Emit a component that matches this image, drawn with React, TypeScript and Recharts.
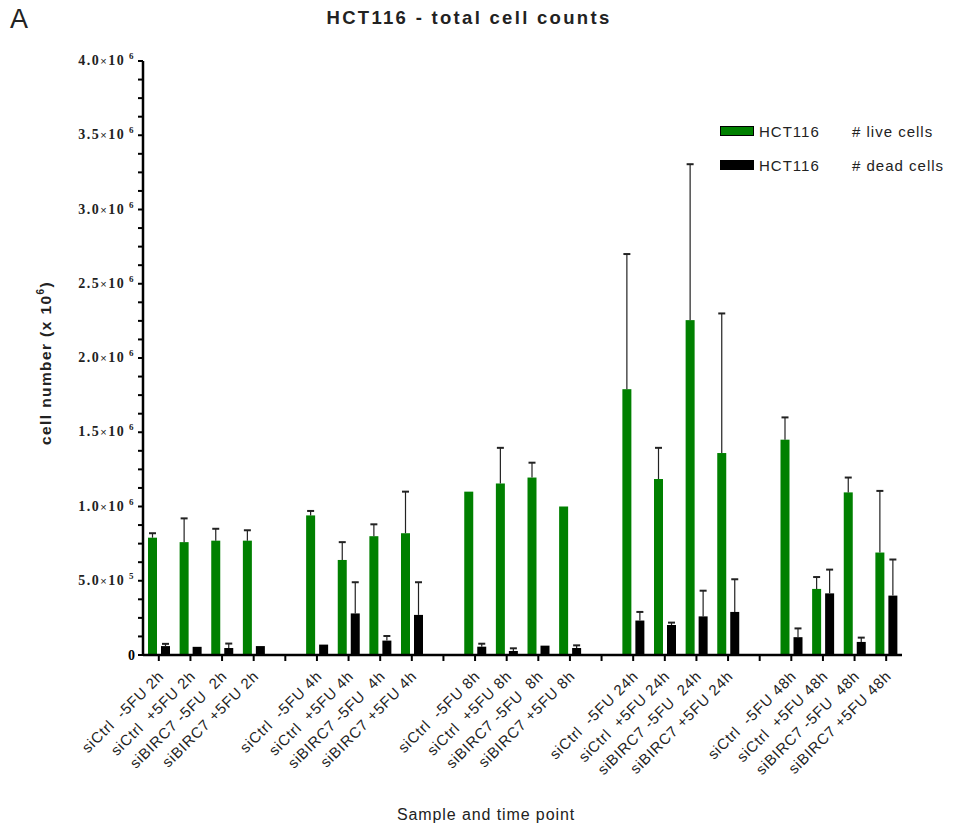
import React from "react";
import { BarChart, Bar, XAxis, YAxis } from "recharts";

// sample / time point labels, "" marks the spacer slot between time points
const categories = [
  "siCtrl  -5FU 2h", "siCtrl  +5FU 2h", "siBIRC7 -5FU  2h", "siBIRC7 +5FU 2h", "",
  "siCtrl  -5FU 4h", "siCtrl  +5FU 4h", "siBIRC7 -5FU  4h", "siBIRC7 +5FU 4h", "",
  "siCtrl  -5FU 8h", "siCtrl  +5FU 8h", "siBIRC7 -5FU  8h", "siBIRC7 +5FU 8h", "",
  "siCtrl  -5FU 24h", "siCtrl  +5FU 24h", "siBIRC7 -5FU  24h", "siBIRC7 +5FU 24h", "",
  "siCtrl  -5FU 48h", "siCtrl  +5FU 48h", "siBIRC7 -5FU  48h", "siBIRC7 +5FU 48h",
];

// cell numbers in millions
const liveCells = [
  0.79, 0.76, 0.77, 0.77, null,
  0.94, 0.64, 0.8, 0.82, null,
  1.1, 1.155, 1.195, 1.0, null,
  1.79, 1.185, 2.255, 1.36, null,
  1.45, 0.445, 1.095, 0.69,
];
const liveErr = [
  0.03, 0.16, 0.08, 0.07, null,
  0.03, 0.12, 0.08, 0.28, null,
  0.005, 0.24, 0.1, 0.005, null,
  0.91, 0.21, 1.05, 0.94, null,
  0.15, 0.08, 0.1, 0.415,
];
const deadCells = [
  0.06, 0.055, 0.047, 0.06, null,
  0.07, 0.28, 0.097, 0.27, null,
  0.056, 0.027, 0.063, 0.047, null,
  0.232, 0.202, 0.26, 0.29, null,
  0.12, 0.415, 0.088, 0.4,
];
const deadErr = [
  0.015, 0.003, 0.03, 0.006, null,
  0.003, 0.21, 0.031, 0.22, null,
  0.02, 0.018, 0.003, 0.018, null,
  0.058, 0.016, 0.173, 0.22, null,
  0.059, 0.16, 0.029, 0.243,
];

const yTicks = Array.from({ length: 33 }, (_, i) => i * 0.125);

const legendItems = [
  { color: "#008000", name: "# live cells" },
  { color: "#000000", name: "# dead cells" },
];

const data = categories.map((label, i) => ({
  key: `c${i}`,
  label,
  live: liveCells[i],
  liveErr: liveErr[i],
  dead: deadCells[i],
  deadErr: deadErr[i],
}));

const SANS = "'Liberation Sans', Arial, sans-serif";
const SERIF = "'Liberation Serif', 'Times New Roman', serif";

const ErrorShape = (props: any, valKey: string, errKey: string) => {
  const { x, y, width, height, fill, payload } = props;
  if (!payload || payload[valKey] == null || !height || height <= 0) return <g />;
  const errPx = (height * payload[errKey]) / payload[valKey];
  const cx = x + width / 2;
  const top = y - errPx;
  return (
    <g>
      <rect x={x} y={y} width={width} height={height} fill={fill} />
      {errPx > 1 && (
        <>
          <line x1={cx} x2={cx} y1={y} y2={top} stroke="#222" strokeWidth={1.2} />
          <line x1={cx - 3.5} x2={cx + 3.5} y1={top} y2={top} stroke="#222" strokeWidth={2} />
        </>
      )}
    </g>
  );
};

const YTick = (props: any) => {
  const { x, y, payload, index } = props;
  if (index % 4 !== 0) return <g />;
  const v = payload.value;
  if (v === 0) {
    return (
      <text x={x} y={y} dy={5} textAnchor="end" fontFamily={SERIF} fontWeight="bold" fontSize={14} fill="#000">
        0
      </text>
    );
  }
  const small = v < 1;
  const mant = small ? (v * 10).toFixed(1) : v.toFixed(1);
  const exp = small ? "5" : "6";
  return (
    <text x={x} y={y} dy={4} textAnchor="end" fontFamily={SERIF} fontWeight="bold" fontSize={14} fill="#222" letterSpacing={1.5}>
      {mant}
      <tspan fontWeight="normal" fontSize={11} fontFamily={SANS}>×</tspan>
      <tspan>10</tspan>
      <tspan dy={-6} fontSize={9}> {exp}</tspan>
    </text>
  );
};

const XTick = (props: any) => {
  const { x, y, index } = props;
  const label = categories[index];
  if (!label) return <g />;
  const ax = x + 6;
  const ay = y + 14;
  return (
    <text
      x={ax}
      y={ay}
      textAnchor="end"
      transform={`rotate(-45, ${ax}, ${ay})`}
      fontFamily={SANS}
      fontSize={15}
      letterSpacing={0.8}
      fill="#222"
      style={{ whiteSpace: "pre" }}
    >
      {label}
    </text>
  );
};

export default function App() {
  return (
    <div style={{ position: "absolute", left: 0, top: 0, width: 954, height: 829, background: "#fff" }}>
      <div style={{ position: "absolute", left: 10, top: 4, fontFamily: SANS, fontSize: 27, color: "#222" }}>A</div>
      <div
        style={{
          position: "absolute",
          left: 0,
          width: 938,
          top: 7,
          textAlign: "center",
          fontFamily: SANS,
          fontWeight: "bold",
          fontSize: 18.5,
          letterSpacing: 2.3,
          color: "#222",
        }}
      >
        HCT116 - total cell counts
      </div>
      <div
        style={{
          position: "absolute",
          left: 45,
          top: 363,
          transform: "translate(-50%, -50%) rotate(-90deg)",
          whiteSpace: "nowrap",
          fontFamily: SANS,
          fontWeight: "bold",
          fontSize: 15.5,
          letterSpacing: 1.4,
          color: "#222",
        }}
      >
        cell number (x 10<sup style={{ fontSize: 10 }}>6</sup>)
      </div>
      <div
        style={{
          position: "absolute",
          left: 486,
          top: 815,
          transform: "translate(-50%, -50%)",
          whiteSpace: "nowrap",
          fontFamily: SANS,
          fontSize: 16,
          letterSpacing: 0.9,
          color: "#222",
        }}
      >
        Sample and time point
      </div>
      <div
        style={{
          position: "absolute",
          left: 720,
          top: 121,
          width: 234,
          fontFamily: SANS,
          fontSize: 15,
          letterSpacing: 1,
          color: "#222",
        }}
      >
        {legendItems.map((it, i) => (
          <div key={i} style={{ display: "flex", alignItems: "center", height: 20, marginBottom: i === 0 ? 14 : 0 }}>
            <span style={{ width: 32, height: 8, background: it.color, border: "1px solid #000", marginRight: 5 }} />
            <span style={{ width: 93 }}>HCT116</span>
            <span>{it.name}</span>
          </div>
        ))}
      </div>
      <BarChart
        width={954}
        height={829}
        data={data}
        margin={{ top: 61, right: 52, bottom: 0, left: 0 }}
        barGap={4}
        barSize={9}
        barCategoryGap="15%"
      >
        <YAxis
          width={143}
          domain={[0, 4]}
          ticks={yTicks}
          interval={0}
          tick={<YTick />}
          tickSize={5}
          tickMargin={3}
          axisLine={{ stroke: "#000", strokeWidth: 2.5 }}
          tickLine={{ stroke: "#000", strokeWidth: 2 }}
        />
        <XAxis
          dataKey="key"
          height={174}
          interval={0}
          tick={<XTick />}
          tickSize={6}
          axisLine={{ stroke: "#000", strokeWidth: 2.5 }}
          tickLine={{ stroke: "#000", strokeWidth: 2 }}
        />
        <Bar
          dataKey="live"
          name="HCT116 # live cells"
          fill="#008000"
          isAnimationActive={false}
          shape={(p: any) => ErrorShape(p, "live", "liveErr")}
        />
        <Bar
          dataKey="dead"
          name="HCT116 # dead cells"
          fill="#000000"
          isAnimationActive={false}
          shape={(p: any) => ErrorShape(p, "dead", "deadErr")}
        />
      </BarChart>
    </div>
  );
}
